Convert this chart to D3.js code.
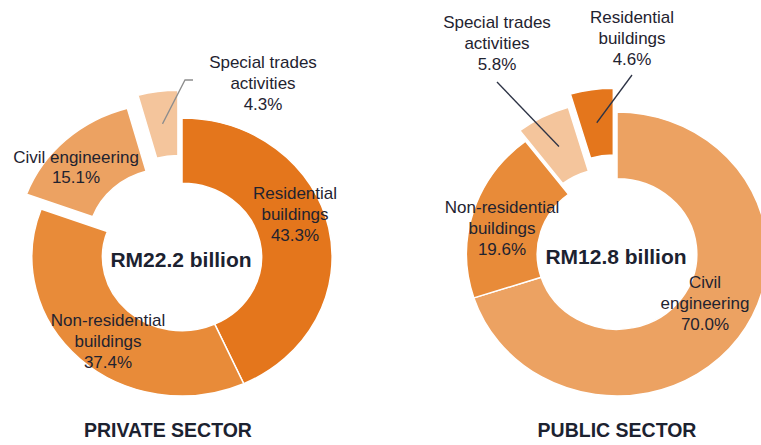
<!DOCTYPE html>
<html>
<head>
    <meta charset="utf-8">
    <script src="https://cdnjs.cloudflare.com/ajax/libs/d3/7.8.5/d3.min.js"></script>
    <style>
        body { margin: 0; background: #fff; }
        svg { display: block; font-family: "Liberation Sans", Arial, sans-serif; }
    </style>
    <title>construction by sector</title>
</head>
<body>
    <svg width="761" height="445"></svg>
    <script>
        // values (percent of value of work done)
        var privateCategories = ["Residential buildings", "Non-residential buildings", "Civil engineering", "Special trades activities"];
        var privateValues = [43.3, 37.4, 15.1, 4.3];

        var publicCategories = ["Civil engineering", "Non-residential buildings", "Special trades activities", "Residential buildings"];
        var publicValues = [70.0, 19.6, 5.8, 4.6];

        var totals = ["RM22.2 billion", "RM12.8 billion"];
        var sectors = ["PRIVATE SECTOR", "PUBLIC SECTOR"];

        var color = d3.scaleOrdinal()
            .domain(["Residential buildings", "Non-residential buildings", "Civil engineering", "Special trades activities"])
            .range(["#e4761c", "#e88b39", "#eca262", "#f4c59c"]);

        // layout for each donut, the picture is a bit stretched sideways so sx > 1
        var charts = [
            {
                cats: privateCategories, vals: privateValues, total: totals[0], title: sectors[0],
                cx: 182, cy: 257, r: 139, sx: 1.08, titleX: 168,
                explode: [0, 0, 20, 28],
                labels: [
                    { x: 295, y: 193, lines: ["Residential", "buildings"] },
                    { x: 108, y: 320, lines: ["Non-residential", "buildings"] },
                    { x: 76, y: 157, lines: ["Civil engineering"] },
                    { x: 263, y: 62, lines: ["Special trades", "activities"], leader: [[193, 80], [185, 80]], stroke: "#8d8d8d" }
                ]
            },
            {
                cats: publicCategories, vals: publicValues, total: totals[1], title: sectors[1],
                cx: 617, cy: 254, r: 142, sx: 1.06, titleX: 617,
                explode: [0, 0, 12, 24],
                labels: [
                    { x: 705, y: 282, lines: ["Civil", "engineering"] },
                    { x: 502, y: 207, lines: ["Non-residential", "buildings"] },
                    { x: 497, y: 22, lines: ["Special trades", "activities"], leader: [[497, 82]], stroke: "#2d3345" },
                    { x: 632, y: 17, lines: ["Residential", "buildings"], leader: [[632, 75]], stroke: "#2d3345" }
                ]
            }
        ];

        var svg = d3.select("svg");
        var pct = d3.format(".1f");
        var pie = d3.pie().sort(null).value(function(d) { return d; });
        var lineH = 21;

        charts.forEach(function(c) {
            var inner = c.r * 0.53;
            var arc = d3.arc().innerRadius(inner).outerRadius(c.r);
            var slices = pie(c.vals);

            var g = svg.append("g")
                .attr("transform", "translate(" + c.cx + "," + c.cy + ") scale(" + c.sx + ",1)");

            g.selectAll("path")
                .data(slices)
                .enter()
                .append("path")
                .attr("d", arc)
                .attr("transform", function(d, i) {
                    var mid = (d.startAngle + d.endAngle) / 2;
                    var off = c.explode[i];
                    return "translate(" + (off * Math.sin(mid)) + "," + (-off * Math.cos(mid)) + ")";
                })
                .style("fill", function(d, i) { return color(c.cats[i]); })
                .style("stroke", "#fff")
                .style("stroke-width", 1.5)
                .attr("vector-effect", "non-scaling-stroke");

            // leader lines go from the label to the middle of the slice
            slices.forEach(function(d, i) {
                var lab = c.labels[i];
                if (!lab.leader) return;
                var mid = (d.startAngle + d.endAngle) / 2;
                var rr = (inner + c.r) / 2 + c.explode[i];
                var pts = lab.leader.concat([[c.cx + c.sx * rr * Math.sin(mid), c.cy - rr * Math.cos(mid)]]);
                svg.append("path")
                    .attr("d", d3.line()(pts))
                    .style("fill", "none")
                    .style("stroke", lab.stroke)
                    .style("stroke-width", 1.3);
            });

            // slice labels
            slices.forEach(function(d, i) {
                var lab = c.labels[i];
                var lines = lab.lines.concat([pct(c.vals[i]) + "%"]);
                var t = svg.append("text")
                    .attr("text-anchor", "middle")
                    .style("font-size", "17px")
                    .style("fill", "#1f2330");
                lines.forEach(function(s, k) {
                    t.append("tspan")
                        .attr("x", lab.x)
                        .attr("y", lab.y + k * (lab.lines.length == 1 ? 20 : lineH) + 6)
                        .text(s);
                });
            });

            svg.append("text")
                .attr("x", c.cx - 1)
                .attr("y", c.cy + 4)
                .attr("text-anchor", "middle")
                .attr("dominant-baseline", "middle")
                .style("font-size", "21px")
                .style("font-weight", "bold")
                .style("fill", "#1c2230")
                .text(c.total);

            svg.append("text")
                .attr("x", c.titleX)
                .attr("y", 437)
                .attr("text-anchor", "middle")
                .style("font-size", "19.5px")
                .style("font-weight", "bold")
                .style("fill", "#1c2230")
                .text(c.title);
        });
    </script>
</body>
</html>
